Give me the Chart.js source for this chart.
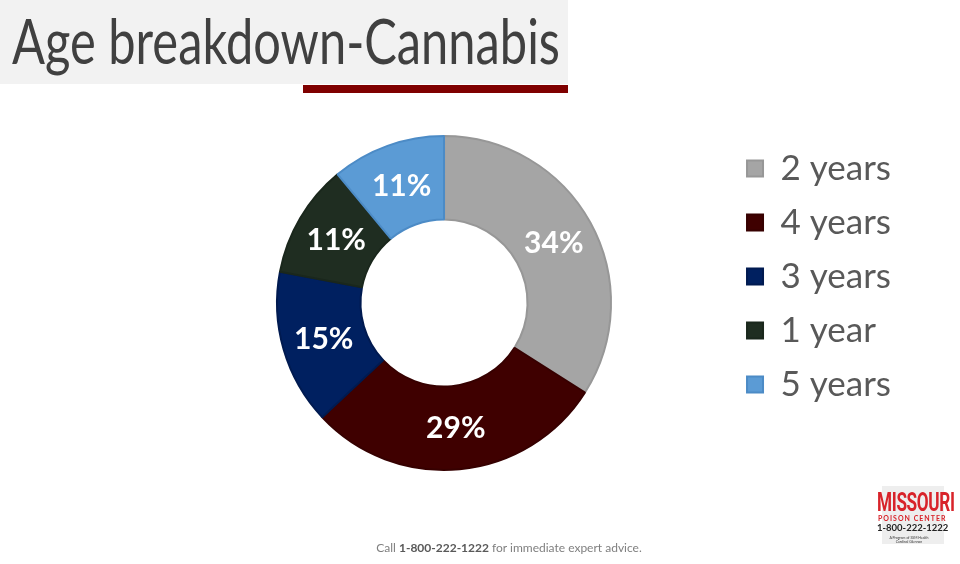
<!DOCTYPE html>
<html>
<head>
<meta charset="utf-8">
<script src="https://cdn.jsdelivr.net/npm/chart.js@4.4.1/dist/chart.umd.min.js"></script>
<style>
  body { margin: 0; background: #fff; font-family: Lato, "Open Sans", sans-serif; }
  #page { position: relative; width: 960px; height: 564px; overflow: hidden; }
  #titleBox { position: absolute; left: 0; top: 0; width: 568px; height: 84px; background: #f2f2f2; }
  #title { position: absolute; left: 12px; top: 3px; font-size: 62px; font-weight: 400; color: #404040;
           white-space: nowrap; transform-origin: 0 0; }
  #redBar { position: absolute; left: 303px; top: 85px; width: 265px; height: 8px; background: #7f0000; }
  #myChart { position: absolute; left: 0; top: 0; }
  #footer { position: absolute; left: 0; width: 1018px; top: 540px; text-align: center; font-size: 12px; color: #7f7f7f; }
  #footer b { color: #595959; }
  #logo { position: absolute; left: 872px; top: 484px; width: 80px; height: 62px; }
  #logo .shape { position: absolute; left: 10px; top: 2px; width: 62px; height: 58px; background: #eeeeee; }
  #logo .m { position: absolute; left: 5px; top: 3px; font-size: 26px; font-weight: bold; color: #d8232a; letter-spacing: -0.5px;
             font-family: "Liberation Sans Narrow", "Roboto", sans-serif; transform: scaleX(0.66); transform-origin: 0 0; }
  #logo .p { position: absolute; left: 6px; top: 30px; font-size: 7px; font-weight: bold; color: #d8232a; letter-spacing: 1px; }
  #logo .n { position: absolute; left: 5px; top: 38px; font-size: 9.5px; font-weight: bold; color: #222; }
  #logo .s { position: absolute; left: 12px; top: 52px; font-size: 3.5px; color: #333; line-height: 4px; text-align: center; width: 50px; }
</style>
</head>
<body>
<div id="page">
  <canvas id="myChart" width="960" height="564"></canvas>
  <div id="titleBox"></div>
  <div id="title">Age breakdown-Cannabis</div>
  <div id="redBar"></div>
  <div id="footer">Call <b>1-800-222-1222</b> for immediate expert advice.</div>
  <div id="logo">
    <div class="shape"></div>
    <div class="m">MISSOURI</div>
    <div class="p">POISON CENTER</div>
    <div class="n">1-800-222-1222</div>
    <div class="s">A Program of SSM Health<br>Cardinal Glennon</div>
  </div>
</div>
<script>
const ageLabels = ["2 years", "4 years", "3 years", "1 year", "5 years"];
const agePercent = [34, 29, 15, 11, 11];
var sliceColors = ["#a5a5a5", "#3f0000", "#002060", "#1f2d21", "#5b9bd5"];
var sliceBorders = ["#979797", "#360000", "#001a50", "#1a271c", "#4c8bc6"];

// squeeze the title to the width it has on the slide
var title = document.getElementById('title');
var w = title.getBoundingClientRect().width;
title.style.transform = 'scaleX(' + (548 / w) + ')';

// percent text in the middle of each slice
const sliceText = {
  id: 'sliceText',
  afterDatasetsDraw(chart) {
    var ctx = chart.ctx;
    var meta = chart.getDatasetMeta(0);
    ctx.save();
    ctx.fillStyle = "#ffffff";
    ctx.font = "bold 30px Lato, sans-serif";
    ctx.textAlign = "center";
    ctx.textBaseline = "middle";
    meta.data.forEach(function(arc, i) {
      var pos = arc.tooltipPosition();
      ctx.fillText(agePercent[i] + "%", pos.x, pos.y + 1);
    });
    ctx.restore();
  }
};

new Chart("myChart", {
  type: "doughnut",
  data: {
    labels: ageLabels,
    datasets: [{
      data: agePercent,
      backgroundColor: sliceColors,
      borderColor: sliceBorders,
      borderWidth: 2
    }]
  },
  options: {
    responsive: false,
    animation: false,
    cutout: "50%",
    radius: 167,
    layout: { padding: { left: 160, top: 132, bottom: 90, right: 59 } },
    plugins: {
      tooltip: { enabled: false },
      legend: {
        position: "right",
        align: "start",
        labels: {
          boxWidth: 16,
          boxHeight: 16,
          padding: 19,
          color: "#595959",
          font: { family: "Lato, sans-serif", size: 35 }
        }
      }
    }
  },
  plugins: [sliceText]
});
</script>
</body>
</html>
